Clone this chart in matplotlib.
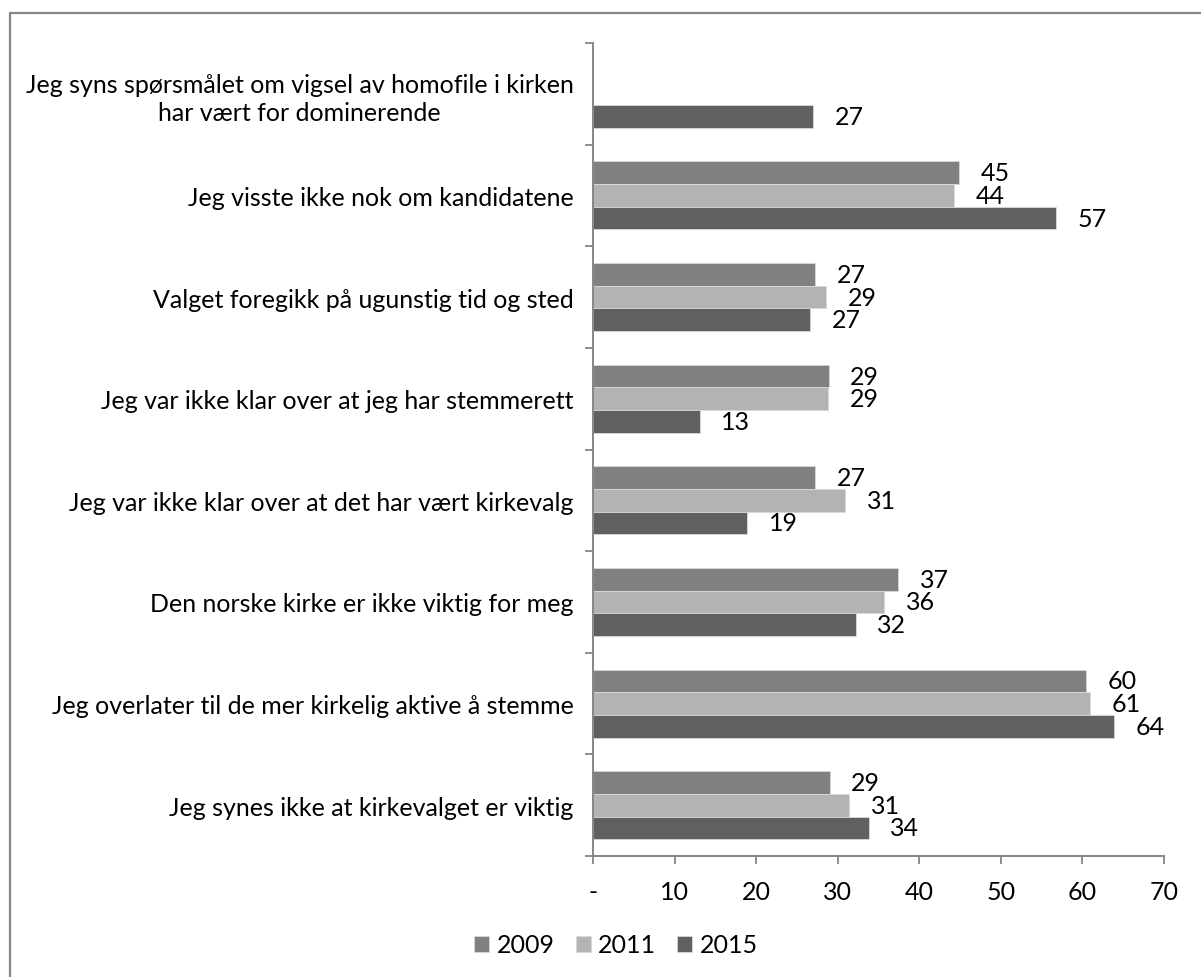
import numpy as np
import matplotlib
matplotlib.use("Agg")
import matplotlib.pyplot as plt
from matplotlib.patches import Rectangle

plt.rcParams['font.family'] = ['Lato', 'DejaVu Sans']

categories = [
    "Jeg syns spørsmålet om vigsel av homofile i kirken\nhar vært for dominerende",
    "Jeg visste ikke nok om kandidatene",
    "Valget foregikk på ugunstig tid og sted",
    "Jeg var ikke klar over at jeg har stemmerett",
    "Jeg var ikke klar over at det har vært kirkevalg",
    "Den norske kirke er ikke viktig for meg",
    "Jeg overlater til de mer kirkelig aktive å stemme",
    "Jeg synes ikke at kirkevalget er viktig",
]
series_names = ["2009", "2011", "2015"]
v2009 = [np.nan, 44.9, 27.2, 28.9, 27.2, 37.4, 60.4, 29.0]
v2011 = [np.nan, 44.3, 28.6, 28.8, 30.9, 35.7, 60.9, 31.4]
v2015 = [27.0, 56.8, 26.6, 13.1, 18.9, 32.2, 63.9, 33.8]
xticks = [0, 10, 20, 30, 40, 50, 60, 70]
xticklabels = ["-", "10", "20", "30", "40", "50", "60", "70"]

colors = ["#808080", "#b3b3b3", "#606060"]
axis_gray = "#868686"
FS = 18

W, H = 1201, 978
fig = plt.figure(figsize=(W / 100, H / 100), dpi=100)
fig.patch.set_facecolor("white")

# outer chart frame (cropped at right/bottom)
fig.patches.append(Rectangle((10 / W, -0.05), 1.2, 1 - 14 / H + 0.05,
                             transform=fig.transFigure, fill=False,
                             edgecolor=axis_gray, linewidth=1.6))

ax = fig.add_axes([593 / W, 1 - 857 / H, (1164 - 593) / W, (857 - 44) / H])

y = np.arange(len(categories))
h = 0.223
offsets = [-h, 0, h]
all_vals = [v2009, v2011, v2015]
for vals, off, col, name in zip(all_vals, offsets, colors, series_names):
    arr = np.array(vals, dtype=float)
    ax.barh(y + off, arr, height=h, color=col, edgecolor="#d9d9d9",
            linewidth=0.6, label=name)
    for yi, v in zip(y + off, arr):
        if not np.isnan(v):
            ax.annotate(f"{v:.0f}", xy=(v, yi), xytext=(15.5, 0),
                        textcoords="offset points", ha="left", va="center",
                        fontsize=FS, color="black")

ax.set_xlim(0, 70)
ax.set_ylim(len(categories) - 0.5, -0.5)

ax.set_xticks(xticks)
ax.set_xticklabels(xticklabels, fontsize=FS)
ax.set_yticks(y)
ax.set_yticklabels(categories, fontsize=FS)
for t in ax.get_yticklabels():
    t.set_multialignment("center")
    t.set_linespacing(1.25)
ax.set_yticks(np.arange(-0.5, len(categories), 1), minor=True)

ax.tick_params(axis="y", which="major", length=0, pad=14)
ax.tick_params(axis="y", which="minor", length=6, width=1.3, color=axis_gray,
               direction="out")
ax.tick_params(axis="x", which="major", length=6, width=1.3, color=axis_gray,
               direction="out", pad=11)

for s in ["top", "right"]:
    ax.spines[s].set_visible(False)
for s in ["left", "bottom"]:
    ax.spines[s].set_color(axis_gray)
    ax.spines[s].set_linewidth(1.4)

handles, labels = ax.get_legend_handles_labels()
fig.legend(handles, labels, loc="center", bbox_to_anchor=(616 / W, 1 - 946 / H),
           ncol=3, frameon=False, fontsize=FS, handlelength=0.6,
           handleheight=0.6, handletextpad=0.3, columnspacing=0.85)

fig.savefig("out.png", dpi=100)
